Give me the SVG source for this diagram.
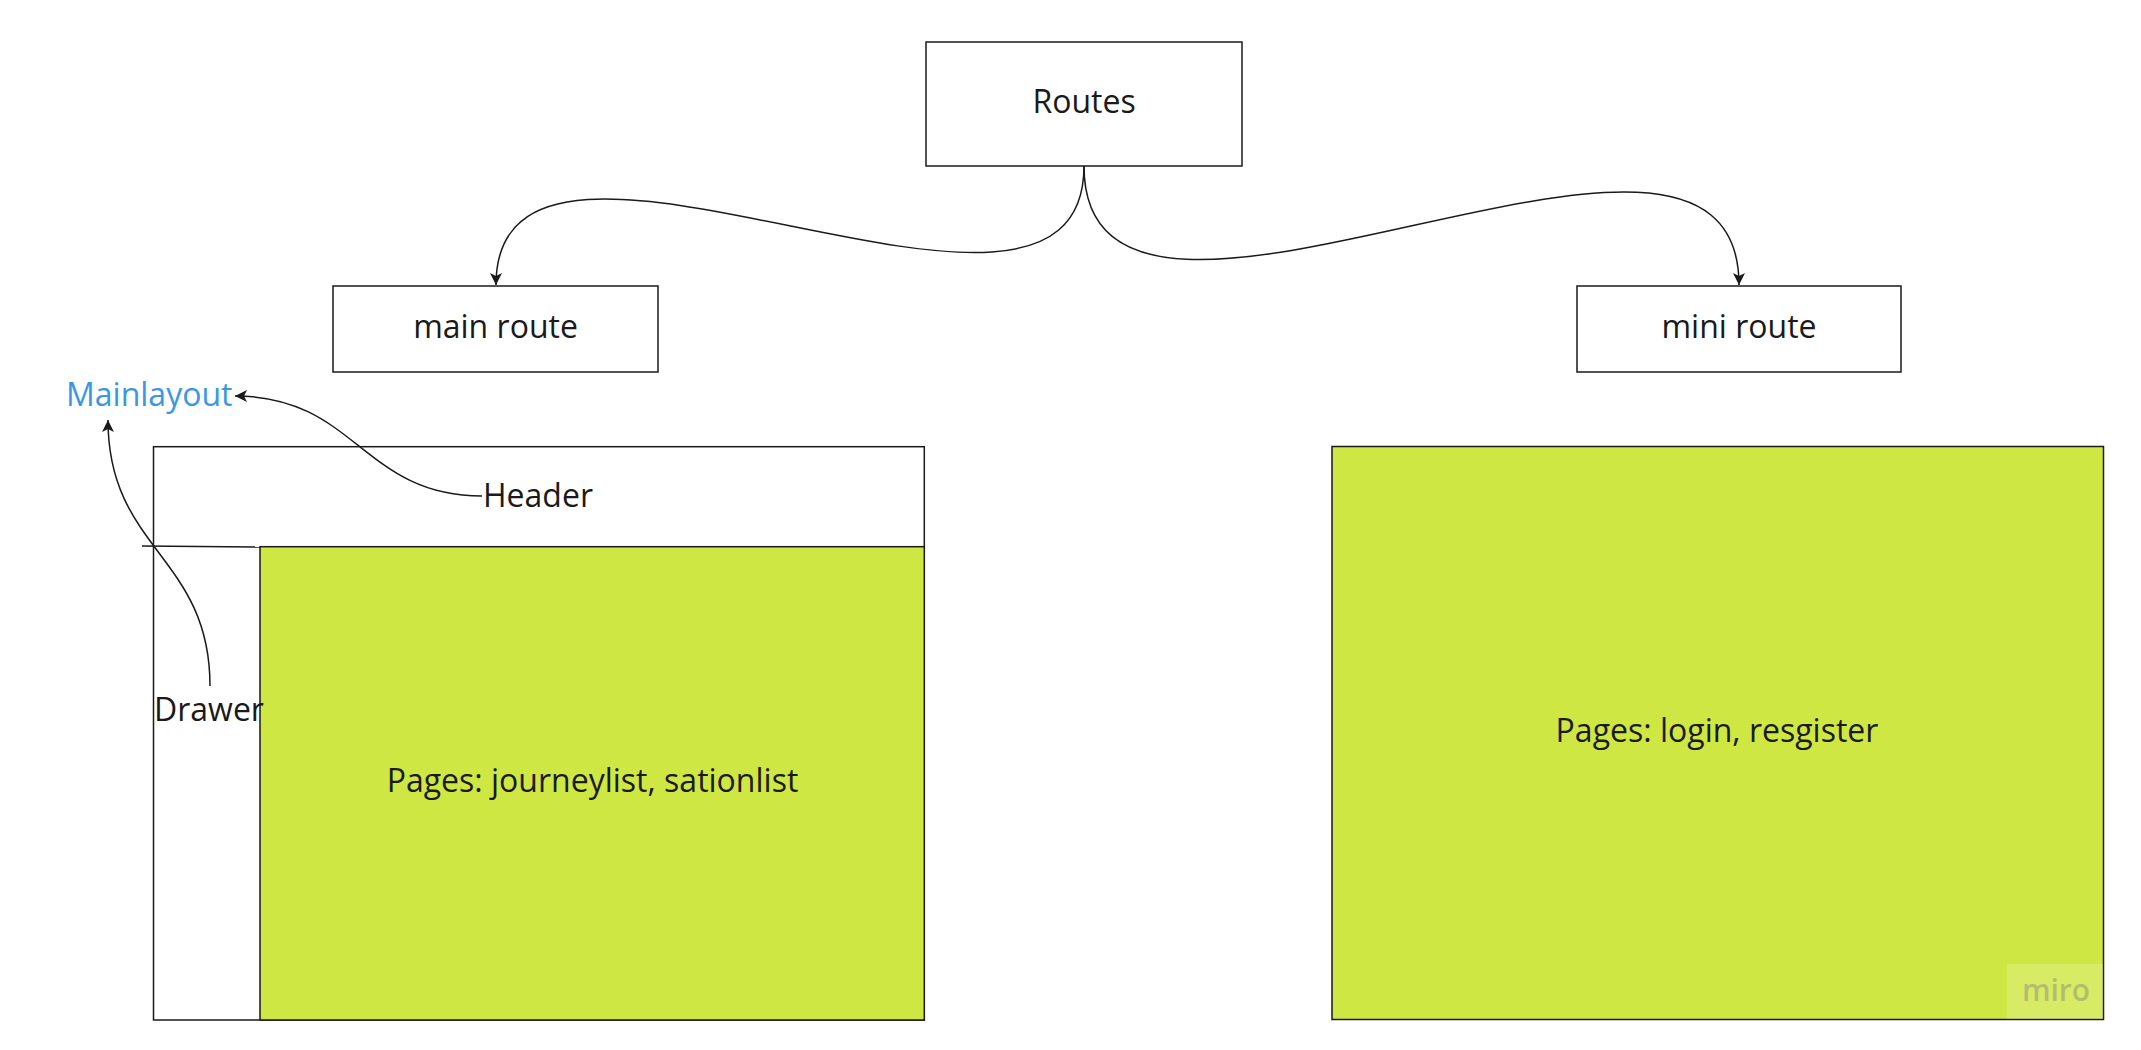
<svg xmlns="http://www.w3.org/2000/svg" width="2141" height="1050" viewBox="0 0 2141 1050">
<style>
.box{fill:#ffffff;stroke:#1a1a1a;stroke-width:1.5}
.green{fill:#cfe742;stroke:#1a1a1a;stroke-width:1.5}
.t{font-family:"Open Sans","Liberation Sans",sans-serif;font-size:32px;fill:#1a1a1a}
.c{text-anchor:middle}
.conn{fill:none;stroke:#1a1a1a;stroke-width:1.5}
</style>
<defs>
<marker id="arr" markerUnits="userSpaceOnUse" markerWidth="14" markerHeight="12" viewBox="0 0 14 12" refX="12" refY="6" orient="auto">
<path d="M0,0 L12,6 L0,12 L3,6 Z" fill="#1a1a1a"/>
</marker>
</defs>
<rect width="2141" height="1050" fill="#ffffff"/>
<g id="routes">
<rect class="box" x="926" y="42" width="316" height="124"/>
<text class="t c" x="1084" y="113">Routes</text>
</g>
<g id="main-route">
<rect class="box" x="333" y="286" width="325" height="86"/>
<text class="t c" x="495.5" y="338">main route</text>
</g>
<g id="mini-route">
<rect class="box" x="1577" y="286" width="324" height="86"/>
<text class="t c" x="1739" y="338">mini route</text>
</g>
<g id="main-layout">
<rect class="box" x="153.5" y="446.7" width="770.8" height="573.3"/>
<line x1="142" y1="546" x2="260" y2="547" stroke="#1a1a1a" stroke-width="1.5"/>
<rect class="green" x="260" y="546.7" width="664.3" height="473.3"/>
<text class="t c" x="592.5" y="792">Pages: journeylist, sationlist</text>
</g>
<g id="header-label">
<text class="t" x="483" y="507">Header</text>
</g>
<g id="drawer-label">
<text class="t" x="154" y="721">Drawer</text>
</g>
<g id="mainlayout-label">
<text class="t" x="66" y="406" style="fill:#3b97e3">Mainlayout</text>
</g>
<g id="mini-layout">
<rect class="green" x="1332" y="446.5" width="771.5" height="573"/>
<text class="t c" x="1717" y="742">Pages: login, resgister</text>
</g>
<g id="watermark">
<rect x="2007" y="964" width="96" height="55" fill="#ffffff" fill-opacity="0.18"/>
<text x="2056" y="1001" text-anchor="middle" style="font-family:'Open Sans','Liberation Sans',sans-serif;font-size:30px;font-weight:600;fill:#9aa070;fill-opacity:0.6">miro</text>
</g>
<g id="connectors">
<path class="conn" d="M1084,166 C1084,405 496,47 496,285" marker-end="url(#arr)"/>
<path class="conn" d="M1084,166 C1084,431 1739,21 1739,285" marker-end="url(#arr)"/>
<path class="conn" d="M482,496 C362,496 356,396 235,396" marker-end="url(#arr)"/>
<path class="conn" d="M210,686 C210,556 108,550 108,420" marker-end="url(#arr)"/>
</g>
</svg>
